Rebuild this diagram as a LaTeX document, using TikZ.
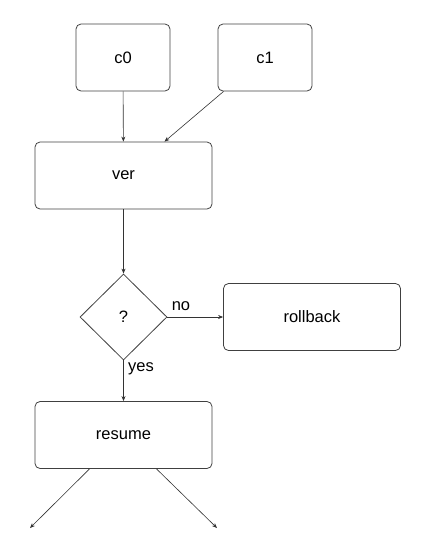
\documentclass[tikz,border=0pt]{standalone}
\usepackage{fontspec}
\setmainfont{Liberation Sans}
\usetikzlibrary{shapes.geometric,arrows.meta}

\tikzset{
  box/.style={draw=black!75,line width=0.8pt,rounded corners=5pt,
    minimum width=177pt,minimum height=67pt,font=\fontsize{16.5}{19}\selectfont},
  smallbox/.style={box,minimum width=94pt},
  ask/.style={draw=black!75,line width=0.8pt,diamond,inner sep=0pt,
    minimum width=87pt,minimum height=86pt,font=\fontsize{16.5}{19}\selectfont},
  flow/.style={draw=black!80,line width=0.6pt,-{Stealth[length=5pt,width=4pt]}},
  lbl/.style={font=\fontsize{16.5}{19}\selectfont}
}

\begin{document}
\begin{tikzpicture}[x=1pt,y=-1pt] % pixel grid, y downwards
  \useasboundingbox (0,0) rectangle (425,550);
  % inputs
  \node[smallbox] (c0) at (123,57.5) {c0};
  \node[smallbox] (c1) at (265,57.5) {c1};
  \node[box] (ver) at (123.5,175.5) {ver};
  % decision
  \node[ask] (chk) at (123.5,317) {?};
  \node[box] (rollback) at (312,317) {rollback};
  \node[box] (resume) at (123.5,435) {resume};
  \coordinate (outl) at (30,528);
  \coordinate (outr) at (217,528);
  % connectors
  \draw[flow] (c0) -- (ver);
  \draw[flow] ([xshift=6pt]c1.south west) -- ([xshift=41pt]ver.north);
  \draw[flow] (ver) -- (chk);
  \draw[flow] (chk) -- (rollback);
  \draw[flow] (chk) -- (resume);
  \draw[flow] ([xshift=-34pt]resume.south) -- (outl);
  \draw[flow] ([xshift=33pt]resume.south) -- (outr);
  \node[lbl] (no) at (181,306) {no};
  \node[lbl] (yes) at (141,369) {yes};
\end{tikzpicture}
\end{document}
